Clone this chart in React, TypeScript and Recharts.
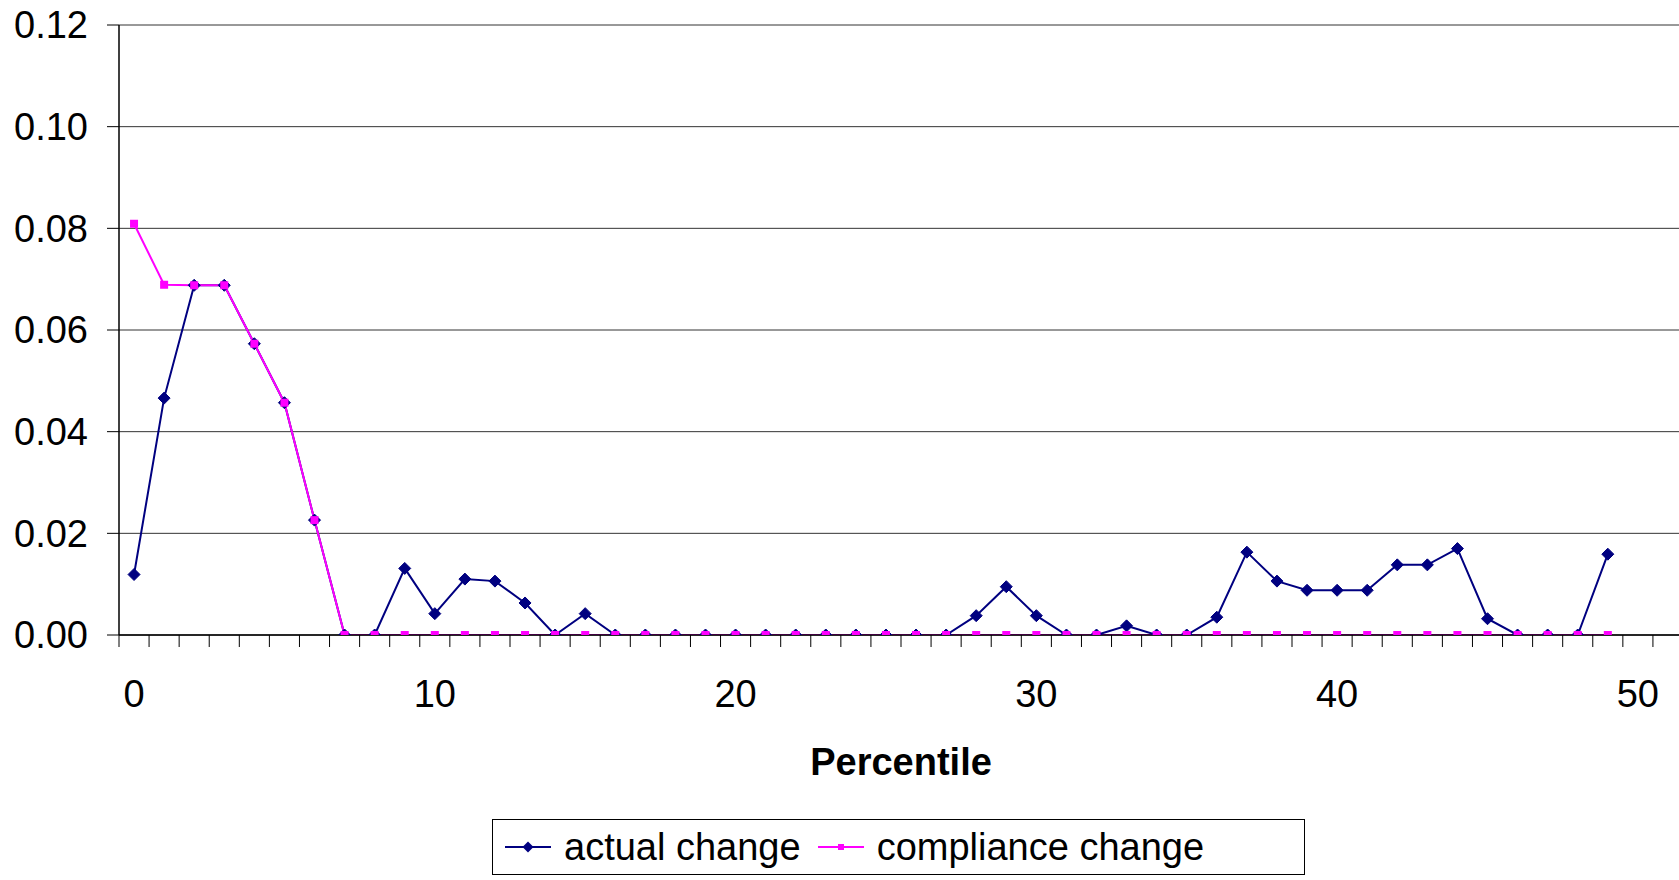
import React from 'react';
import { LineChart, Line, XAxis, YAxis, CartesianGrid, Legend } from 'recharts';

const FONT = '"Liberation Sans", Arial, sans-serif';

const percentiles = [
  0, 1, 2, 3, 4, 5, 6, 7, 8, 9,
  10, 11, 12, 13, 14, 15, 16, 17, 18, 19,
  20, 21, 22, 23, 24, 25, 26, 27, 28, 29,
  30, 31, 32, 33, 34, 35, 36, 37, 38, 39,
  40, 41, 42, 43, 44, 45, 46, 47, 48, 49,
];

const actualChange = [
  0.0119, 0.0466, 0.0688, 0.0688, 0.0573, 0.0457, 0.0226, 0, 0, 0.0131,
  0.0042, 0.0110, 0.0106, 0.0063, 0, 0.0042, 0, 0, 0, 0,
  0, 0, 0, 0, 0, 0, 0, 0, 0.0038, 0.0095,
  0.0038, 0, 0, 0.0018, 0, 0, 0.0035, 0.0163, 0.0106, 0.0088,
  0.0088, 0.0088, 0.0138, 0.0138, 0.0170, 0.0032, 0, 0, 0, 0.0159,
];

const complianceChange = [
  0.0809, 0.0689, 0.0688, 0.0688, 0.0573, 0.0457, 0.0226, 0, 0, 0,
  0, 0, 0, 0, 0, 0, 0, 0, 0, 0,
  0, 0, 0, 0, 0, 0, 0, 0, 0, 0,
  0, 0, 0, 0, 0, 0, 0, 0, 0, 0,
  0, 0, 0, 0, 0, 0, 0, 0, 0, 0,
];

const yTicks = [0, 0.02, 0.04, 0.06, 0.08, 0.1, 0.12];
const xLabelTicks = [0, 10, 20, 30, 40, 50];
const xDomain: [number, number] = [-0.5, 51.5];
const xMinorTicks = Array.from({ length: 53 }, (_, i) => i - 0.5);

const data = percentiles.map((p, i) => ({
  p,
  actual: actualChange[i],
  compliance: complianceChange[i],
}));

const NAVY = '#000080';
const MAGENTA = '#FF00FF';

const Diamond = (props: any) => {
  const { cx, cy, index } = props;
  if (cx == null || cy == null) return <g key={`a-${index}`} />;
  const r = 6;
  return (
    <path
      key={`a-${index}`}
      d={`M${cx} ${cy - r} L${cx + r} ${cy} L${cx} ${cy + r} L${cx - r} ${cy} Z`}
      fill={NAVY}
      stroke={NAVY}
      strokeWidth={1}
    />
  );
};

const Square = (props: any) => {
  const { cx, cy, index } = props;
  if (cx == null || cy == null) return <g key={`c-${index}`} />;
  const s = 8;
  return <rect key={`c-${index}`} x={cx - s / 2} y={cy - s / 2} width={s} height={s} fill={MAGENTA} />;
};

const LegendIcon = ({ color, kind }: { color: string; kind: string }) => (
  <svg width={46} height={20} style={{ display: 'block' }}>
    <line x1={0} y1={10} x2={46} y2={10} stroke={color} strokeWidth={2} />
    {kind === 'diamond' ? (
      <path d="M23 4.5 L28.5 10 L23 15.5 L17.5 10 Z" fill={color} />
    ) : (
      <rect x={20} y={7} width={6} height={6} fill={color} />
    )}
  </svg>
);

const renderLegend = (props: any) => {
  const { payload } = props;
  return (
    <div
      style={{
        border: '1px solid #000',
        width: 813,
        height: 56,
        display: 'flex',
        alignItems: 'center',
        paddingLeft: 12,
        boxSizing: 'border-box',
        background: '#fff',
        fontFamily: FONT,
        fontSize: 38,
        color: '#000',
      }}
    >
      {(payload || []).map((entry: any, i: number) => (
        <div key={i} style={{ display: 'flex', alignItems: 'center', marginRight: 17 }}>
          <LegendIcon color={entry.color} kind={entry.dataKey === 'actual' ? 'diamond' : 'square'} />
          <span style={{ marginLeft: 13, lineHeight: '44px', whiteSpace: 'nowrap' }}>{entry.value}</span>
        </div>
      ))}
    </div>
  );
};

export default function App() {
  return (
    <div
      style={{
        position: 'absolute',
        left: 0,
        top: 0,
        width: 1679,
        height: 880,
        overflow: 'hidden',
        background: '#fff',
      }}
    >
      <LineChart width={1700} height={880} data={data} margin={{ top: 25, right: 17, bottom: 0, left: 0 }}>
        <CartesianGrid xAxisId="a" horizontal vertical={false} stroke="#333" strokeWidth={1} />
        <XAxis
          xAxisId="a"
          dataKey="p"
          type="number"
          domain={xDomain}
          ticks={xMinorTicks}
          interval={0}
          height={1}
          tickSize={12}
          tickFormatter={() => ''}
          axisLine={{ stroke: '#000', strokeWidth: 1.5 }}
          tickLine={{ stroke: '#000', strokeWidth: 1 }}
          allowDataOverflow
        />
        <XAxis
          xAxisId="b"
          dataKey="p"
          type="number"
          domain={xDomain}
          ticks={xLabelTicks}
          interval={0}
          height={244}
          tickSize={0}
          tickMargin={44}
          axisLine={false}
          tickLine={false}
          tick={{ fill: '#000', fontSize: 38, fontFamily: FONT }}
          allowDataOverflow
          label={{
            value: 'Percentile',
            position: 'insideBottom',
            offset: 105,
            style: { fontWeight: 'bold', fontSize: 38, fill: '#000', fontFamily: FONT },
          }}
        />
        <YAxis
          type="number"
          domain={[0, 0.12]}
          ticks={yTicks}
          interval={0}
          width={119}
          tickSize={12}
          tickMargin={19}
          tickFormatter={(v: number) => v.toFixed(2)}
          axisLine={{ stroke: '#000', strokeWidth: 1.5 }}
          tickLine={{ stroke: '#000', strokeWidth: 1 }}
          tick={{ fill: '#000', fontSize: 38, fontFamily: FONT }}
          allowDataOverflow
        />
        <Legend
          verticalAlign="middle"
          align="center"
          layout="horizontal"
          content={renderLegend}
          wrapperStyle={{ left: 492, top: 819, width: 813, height: 56 }}
        />
        <Line
          xAxisId="b"
          dataKey="actual"
          name="actual change"
          stroke={NAVY}
          strokeWidth={2}
          dot={Diamond}
          activeDot={false}
          isAnimationActive={false}
        />
        <Line
          xAxisId="a"
          dataKey="compliance"
          name="compliance change"
          stroke={MAGENTA}
          strokeWidth={2}
          dot={Square}
          activeDot={false}
          isAnimationActive={false}
        />
      </LineChart>
    </div>
  );
}
